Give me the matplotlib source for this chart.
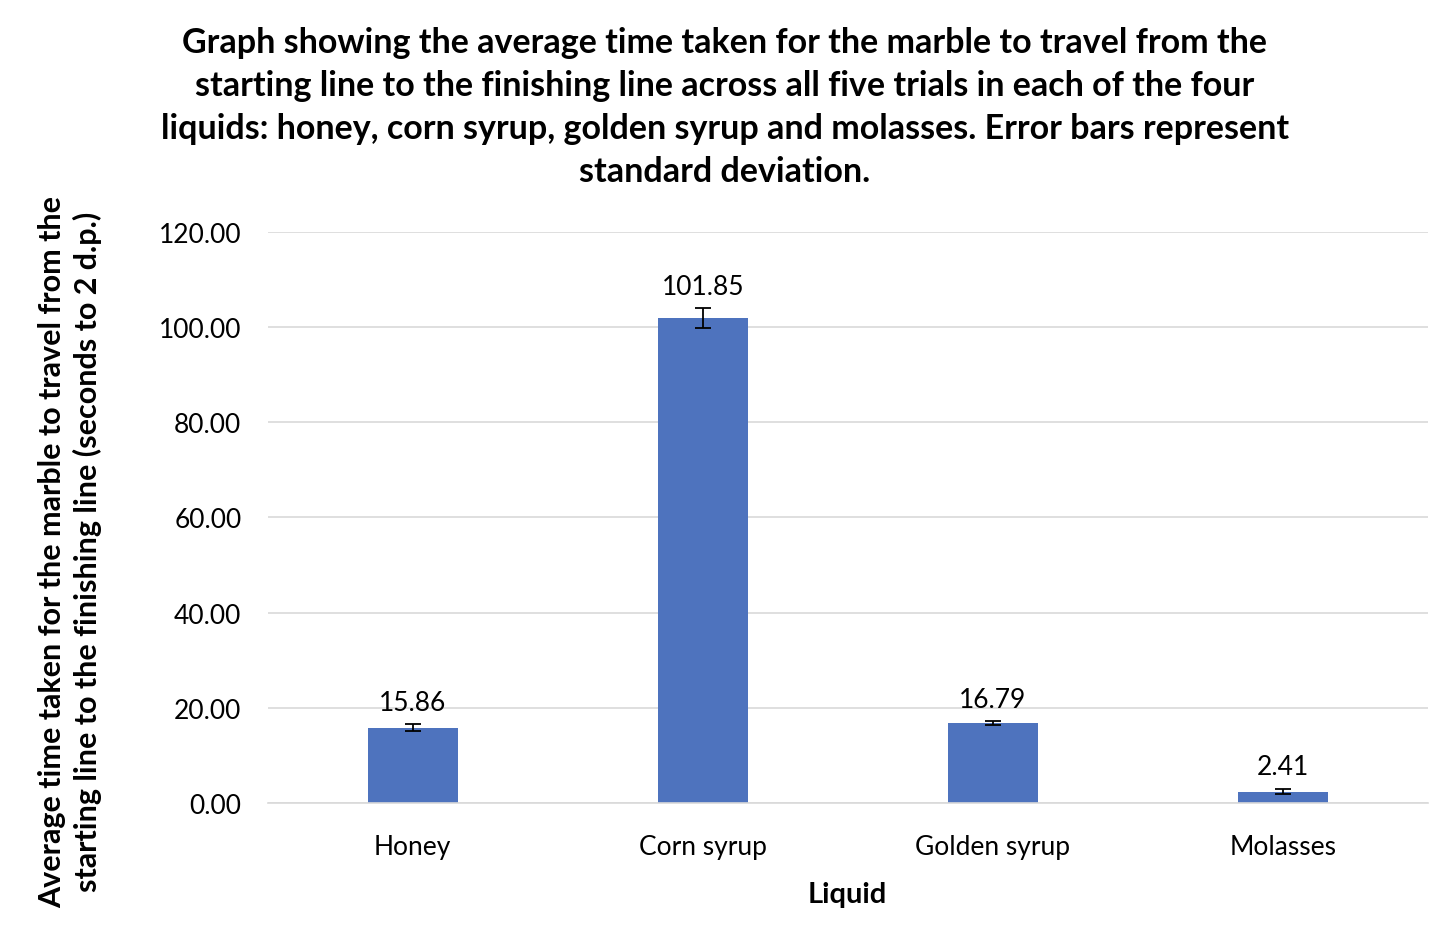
import numpy as np
import matplotlib.pyplot as plt

plt.rcParams['font.family'] = ['Lato', 'DejaVu Sans']

# data
liquids = ['Honey', 'Corn syrup', 'Golden syrup', 'Molasses']
avg_time = [15.86, 101.85, 16.79, 2.41]
std_dev = [0.65, 2.1, 0.4, 0.6]
yticks = [0, 20, 40, 60, 80, 100, 120]

title = ('Graph showing the average time taken for the marble to travel from the\n'
         'starting line to the finishing line across all five trials in each of the four\n'
         'liquids: honey, corn syrup, golden syrup and molasses. Error bars represent\n'
         'standard deviation.')


def main():
    fig = plt.figure(figsize=(14.32, 9.28), dpi=100)
    ax = fig.add_axes([0.187, 0.1336, 0.81, 0.6154])

    x = np.arange(len(liquids))
    ax.bar(x, avg_time, width=0.31, color='#4E73BE', zorder=2)
    ax.errorbar(x, avg_time, yerr=std_dev, fmt='none', ecolor='black',
                elinewidth=1.3, capsize=6, capthick=1.3, zorder=3)

    # value labels above each bar
    for xi, v, e in zip(x, avg_time, std_dev):
        ax.text(xi, v + e + 2.0, '%.2f' % v, ha='center', va='bottom',
                fontsize=19, color='black')

    ax.set_xlim(-0.5, len(liquids) - 0.5)
    ax.set_ylim(0, 120)
    ax.set_yticks(yticks)
    ax.set_yticklabels(['%.2f' % t for t in yticks], fontsize=19)
    ax.set_xticks(x)
    ax.set_xticklabels(liquids, fontsize=19)
    ax.tick_params(axis='x', length=0, pad=22)
    ax.tick_params(axis='y', length=0, pad=19)

    ax.grid(axis='y', color='#D9D9D9', linewidth=1.2, zorder=0)
    for s in ['top', 'right', 'left']:
        ax.spines[s].set_visible(False)
    ax.spines['bottom'].set_color('#D9D9D9')
    ax.spines['bottom'].set_linewidth(1.2)

    ax.set_xlabel('Liquid', fontsize=21, fontweight='bold', labelpad=16)
    fig.text(0.049, 0.405, 'Average time taken for the marble to travel from the\n'
             'starting line to the finishing line (seconds to 2 d.p.)',
             rotation=90, ha='center', va='center', fontsize=22,
             fontweight='bold', linespacing=1.25)

    fig.text(0.506, 0.971, title, ha='center', va='top', fontsize=24.5,
             fontweight='bold', linespacing=1.43)

    fig.savefig('out.png', dpi=100)


if __name__ == '__main__':
    main()
